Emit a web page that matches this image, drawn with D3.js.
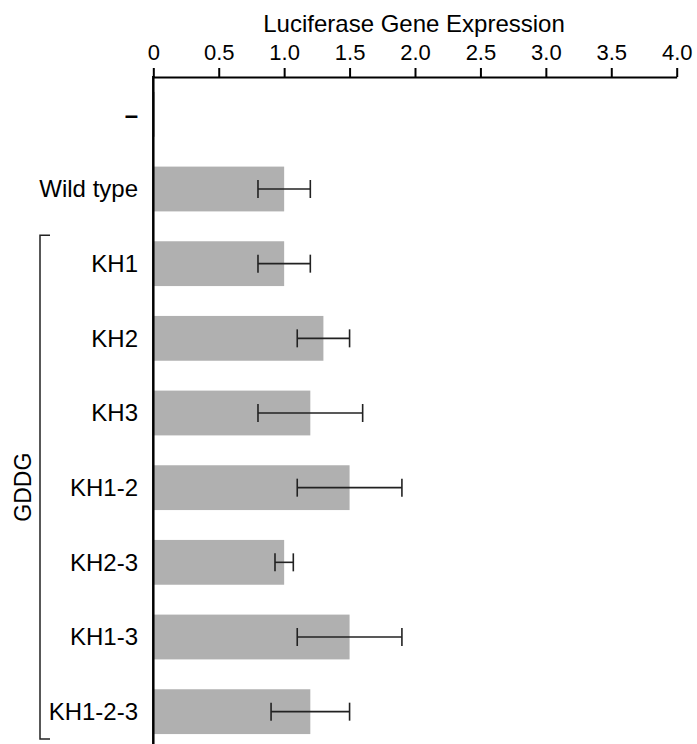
<!DOCTYPE html>
<html>
<head>
<meta charset="utf-8">
<script src="https://cdn.jsdelivr.net/npm/d3@7"></script>
<style>
  html, body { margin: 0; padding: 0; background: #fff; }
  svg { display: block; font-family: Arial, "Liberation Sans", sans-serif; }
</style>
</head>
<body>
<svg id="chart" width="697" height="744"></svg>
<script>
const categories = ["–", "Wild type", "KH1", "KH2", "KH3", "KH1-2", "KH2-3", "KH1-3", "KH1-2-3"];
const values     = [0.01, 1.0, 1.0, 1.3, 1.2, 1.5, 1.0, 1.5, 1.2];
const errLow     = [null, 0.8, 0.8, 1.1, 0.8, 1.1, 0.93, 1.1, 0.9];
const errHigh    = [null, 1.2, 1.2, 1.5, 1.6, 1.9, 1.07, 1.9, 1.5];
const tickValues = [0, 0.5, 1.0, 1.5, 2.0, 2.5, 3.0, 3.5, 4.0];
const tickLabels = ["0", "0.5", "1.0", "1.5", "2.0", "2.5", "3.0", "3.5", "4.0"];
const groupLabel = "GDDG";
const groupMembers = ["KH1", "KH1-2-3"];
const axisTitle = "Luciferase Gene Expression";

(function () {
const svg = d3.select("#chart");
const x = d3.scaleLinear().domain([0, 4]).range([153.3, 676.7]);
const y = d3.scaleBand().domain(categories).range([77, 749]).paddingInner(0.4).paddingOuter(0.2);

// bars
svg.append("g").selectAll("rect").data(categories).join("rect")
  .attr("x", x(0))
  .attr("y", d => y(d))
  .attr("width", (d, i) => Math.max(1.5, x(values[i]) - x(0)))
  .attr("height", y.bandwidth())
  .attr("fill", "#b0b0b0");

// error bars
const eb = svg.append("g").attr("stroke", "#222").attr("stroke-width", 1.6).attr("fill", "none");
categories.forEach((c, i) => {
  if (errLow[i] == null) return;
  const cy = y(c) + y.bandwidth() / 2;
  eb.append("line").attr("x1", x(errLow[i])).attr("x2", x(errHigh[i])).attr("y1", cy).attr("y2", cy);
  eb.append("line").attr("x1", x(errLow[i])).attr("x2", x(errLow[i])).attr("y1", cy - 9).attr("y2", cy + 9);
  eb.append("line").attr("x1", x(errHigh[i])).attr("x2", x(errHigh[i])).attr("y1", cy - 9).attr("y2", cy + 9);
});

// top axis
const axis = d3.axisTop(x).tickValues(tickValues).tickFormat((d, i) => tickLabels[i]).tickSize(9).tickSizeOuter(0).tickPadding(8);
const ag = svg.append("g").attr("transform", "translate(0,77)").call(axis);
ag.select(".domain").attr("stroke", "#000").attr("stroke-width", 2);
ag.selectAll(".tick line").attr("stroke", "#000").attr("stroke-width", 2);
ag.selectAll(".tick text").attr("font-size", 22).attr("fill", "#000")
  .attr("font-family", "Arial, 'Liberation Sans', sans-serif");

// vertical axis line
svg.append("line").attr("x1", x(0)).attr("x2", x(0)).attr("y1", 76).attr("y2", 744)
  .attr("stroke", "#000").attr("stroke-width", 2.5);

// axis title
svg.append("text").attr("x", 414).attr("y", 32)
  .attr("text-anchor", "middle").attr("font-size", 24).attr("fill", "#000").text(axisTitle);

// category labels
svg.append("g").selectAll("text").data(categories).join("text")
  .attr("x", 138)
  .attr("y", d => y(d) + y.bandwidth() / 2)
  .attr("dy", "0.35em")
  .attr("text-anchor", "end")
  .attr("font-size", 24)
  .attr("font-weight", d => d === "–" ? "bold" : "normal")
  .attr("fill", "#000")
  .text(d => d);

// group bracket
const bTop = y(groupMembers[0]) - 6;
const bBot = y(groupMembers[1]) + y.bandwidth() + 5;
svg.append("path")
  .attr("d", `M50,${bTop} H40 V${bBot} H50`)
  .attr("fill", "none").attr("stroke", "#222").attr("stroke-width", 1.5);
svg.append("text")
  .attr("transform", `translate(31,${(bTop + bBot) / 2}) rotate(-90)`)
  .attr("text-anchor", "middle").attr("font-size", 23).attr("fill", "#000").text(groupLabel);
})();
</script>
</body>
</html>
